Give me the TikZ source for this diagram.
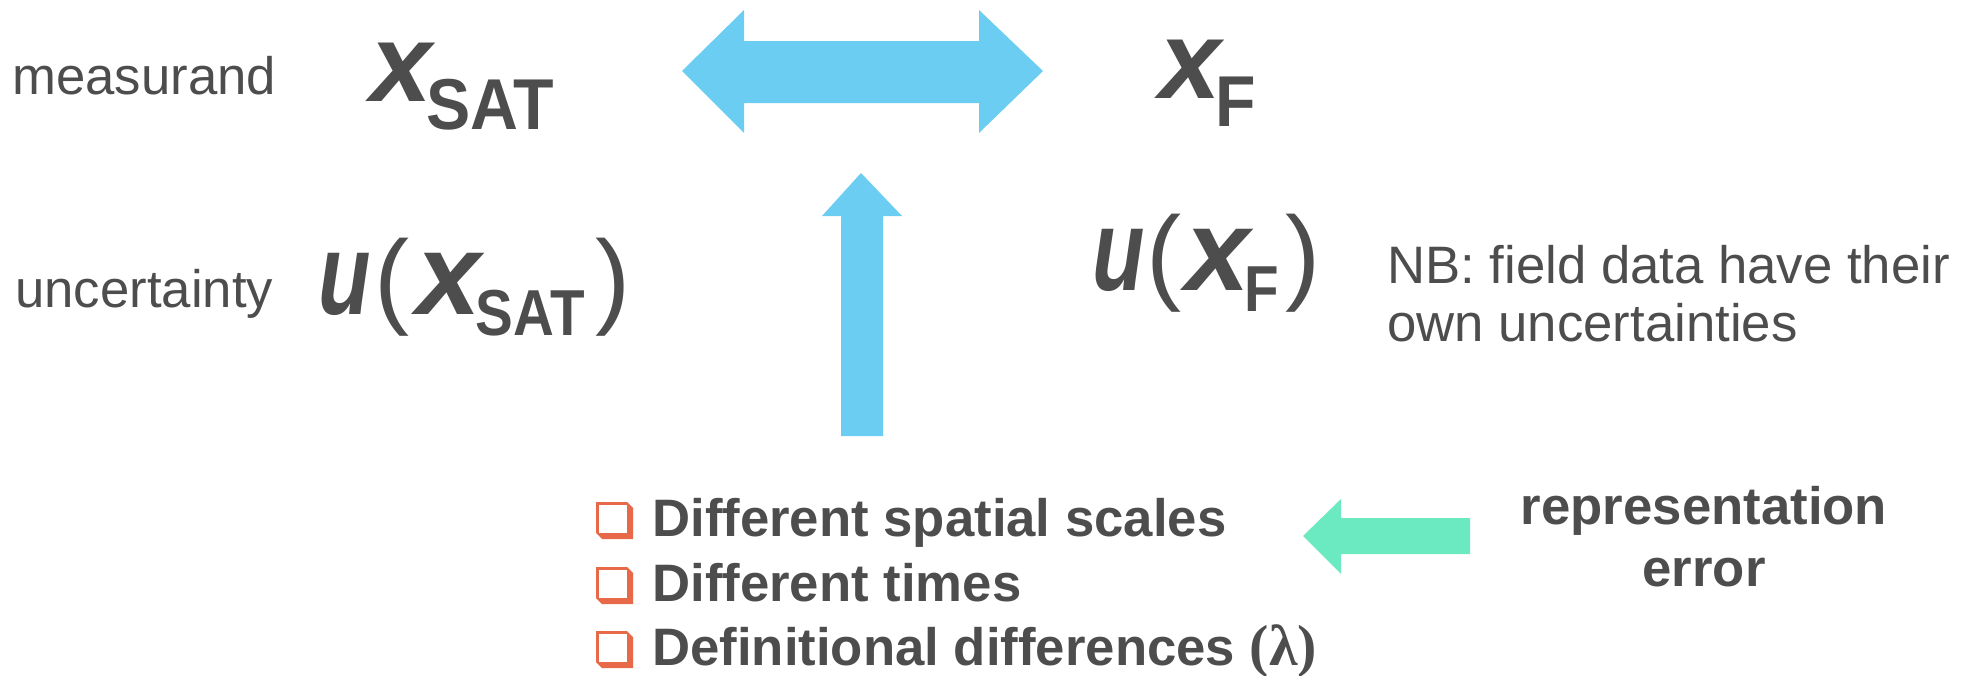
\documentclass[tikz,border=0pt]{standalone}
\usepackage{fontspec}
\setmainfont{Liberation Sans}
\newfontfamily\lamfont{Liberation Serif}
\newfontfamily\narrowsym[FakeStretch=0.74]{Liberation Sans}
\newfontfamily\subsym[FakeStretch=0.87]{Liberation Sans}
\newfontfamily\topsym[FakeStretch=0.92]{Liberation Sans}
\usetikzlibrary{calc,positioning}
\definecolor{textgray}{HTML}{4D4D4D}
\definecolor{arrowblue}{HTML}{6CCDF2}
\definecolor{arrowgreen}{HTML}{6BE9C1}
\definecolor{boxorange}{HTML}{E8694A}
% measurand row
\newcommand\topx[1]{{\fontsize{63}{63}\selectfont\bfseries\itshape #1}}
\newcommand\topsub[1]{\raisebox{-16pt}{\topsym\fontsize{41}{41}\selectfont\bfseries #1}}
% uncertainty row
\newcommand\bigx[1]{{\fontsize{66}{66}\selectfont\bfseries\itshape #1}}
\newcommand\bigu[1]{{\narrowsym\fontsize{66}{66}\selectfont\bfseries\itshape #1}}
\newcommand\bigp[1]{{\fontsize{60}{60}\selectfont #1}}
\newcommand\subx[1]{\raisebox{-12pt}{\subsym\fontsize{37}{37}\selectfont\bfseries #1}}

\begin{document}
\begin{tikzpicture}[x=0.02cm,y=-0.02cm,
    lbl/.style={text=textgray,inner sep=0pt,anchor=base west,font=\fontsize{30}{33}\selectfont},
    item/.style={lbl,font=\fontsize{30}{33}\selectfont\bfseries},
    sym/.style={text=textgray,inner sep=0pt,anchor=base west}]
  \useasboundingbox (0,0) rectangle (1965,676);
  %Row labels
  \node[lbl] (measurand) at (12,94) {measurand};
  \node[lbl] (uncertainty) at (15,307) {uncertainty};
  %Symbols
  \node[sym] (xsat) at (370,101) {\topx{x}\kern-3pt\topsub{SAT}};
  \node[sym] (xf) at (1159,98) {\topx{x}\kern-3pt\topsub{F}};
  \node[sym] (uxsat) at (318,314) {\bigu{u}\kern2pt\bigp{(}\kern4pt\bigx{x}\kern-3pt\subx{SAT}\kern6pt\bigp{)}};
  \node[sym] (uxf) at (1092,290) {\bigu{u}\kern1pt\bigp{(}\kern2pt\bigx{x}\kern-3pt\subx{F}\kern4pt\bigp{)}};
  \node[lbl] (nbone) at (1387,283) {NB: field data have their};
  \node[lbl] (nbtwo) at (1387,341) {own uncertainties};
  %Sources of difference
  \node[item] (scales) at (652,536) {Different spatial scales};
  \node[item] (times) at (652,601) {Different times};
  \node[item] (defs) at (652,665) {Definitional differences {\lamfont\fontsize{33}{33}\selectfont (λ)}};
  \node[item,anchor=base] (rep) at (1704,524) {representation};
  \node[item,anchor=base] (err) at (1704,586) {error};
  %Check boxes
  \foreach \n in {scales,times,defs} {
      \coordinate (b) at ($(\n.base west)+(-56,3)$);
      \fill[boxorange] (b) ++(0,-37) -- ++(31,0) -- ++(6,6) -- ++(0,31) -- ++(-31,0) -- ++(-6,-6) -- cycle;
      \fill[white] ($(b)+(2.5,-34.5)$) rectangle ($(b)+(31,-6)$);
    }
  %Block arrows
  \coordinate (dl) at (682,71);
  \coordinate (dr) at (1043,71);
  \fill[arrowblue] (dl) -- (744,10) -- (744,41) -- (979,41) -- (979,10) -- (dr)
      -- (979,133) -- (979,103) -- (744,103) -- (744,133) -- cycle;
  \coordinate (up) at (861,173);
  \fill[arrowblue] (up) -- (902,216) -- (883,216) -- (883,436) -- (841,436) -- (841,216) -- (822,216) -- cycle;
  \coordinate (gr) at (1303,536);
  \fill[arrowgreen] (gr) -- (1341,499) -- (1341,518) -- (1470,518) -- (1470,554) -- (1341,554) -- (1341,574) -- cycle;
\end{tikzpicture}
\end{document}
